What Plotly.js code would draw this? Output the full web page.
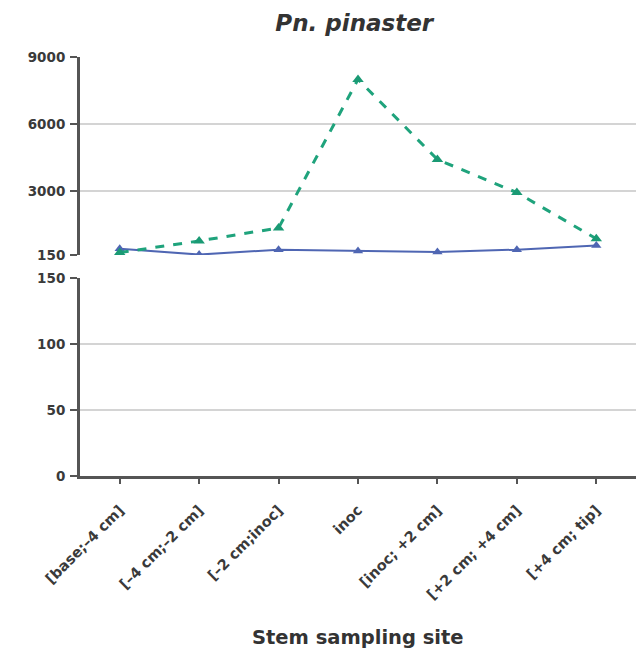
<!DOCTYPE html>
<html>
<head>
<meta charset="utf-8">
<script src="https://cdn.plot.ly/plotly-3.0.1.min.js"></script>
<style>html,body{margin:0;padding:0;background:#fff}#chart{width:636px;height:654px}</style>
</head>
<body>
<div id="chart"></div>
<script>
const categories = ["[base;\u20134 cm]", "[\u20134 cm;\u20132 cm]", "[\u20132 cm;inoc]", "inoc", "[inoc; +2 cm]", "[+2 cm; +4 cm]", "[+4 cm; tip]"];
const seriesBlue = [430, 170, 390, 330, 280, 390, 580];
const seriesGreen = [260, 780, 1360, 8000, 4420, 2940, 880];
const topTicks = [150, 3000, 6000, 9000];
const bottomTicks = [0, 50, 100, 150];

const blueStyle = {line: {color: '#4f66b3', width: 2}, marker: {symbol: 'triangle-up', size: 9, color: '#4f66b3'}};
const greenStyle = {line: {color: '#1fa37c', width: 3, dash: 'dash'}, marker: {symbol: 'triangle-up', size: 10, color: '#1a9a74'}};

const traces = [];
// each series drawn in both panels of the broken axis (bottom panel: 0-150, top panel: 150-9000)
[['x', 'y'], ['x2', 'y2']].forEach(([xa, ya]) => {
  traces.push(Object.assign({x: categories, y: seriesBlue, type: 'scatter', mode: 'lines+markers', xaxis: xa, yaxis: ya, name: 'A'}, blueStyle));
  traces.push(Object.assign({x: categories, y: seriesGreen, type: 'scatter', mode: 'lines+markers', xaxis: xa, yaxis: ya, name: 'B'}, greenStyle));
});

const FONT = 'DejaVu Sans, Verdana, sans-serif';
const yFont = {family: FONT, size: 13.5, color: '#3a3a3a', weight: 'bold'};
const xFont = {family: FONT, size: 14.5, color: '#3a3a3a', weight: 'bold'};
const yCommon = {
  showline: true, linecolor: '#555', linewidth: 3,
  ticks: 'outside', ticklen: 7, tickwidth: 2, tickcolor: '#555', ticklabelstandoff: 2,
  tickfont: yFont, showgrid: true, gridcolor: '#d4d4d4', gridwidth: 2, zeroline: false
};
const layout = {
  width: 636, height: 654,
  margin: {l: 80, r: 0, t: 57, b: 178},
  showlegend: false,
  paper_bgcolor: '#fff', plot_bgcolor: '#fff',
  title: {text: '<b><i>Pn. pinaster</i></b>', font: {family: FONT, size: 23, color: '#333'},
          x: 0.557, xanchor: 'center', y: 1 - 23/654, yanchor: 'middle', xref: 'container', yref: 'container'},
  xaxis: {
    type: 'category', categoryorder: 'array', categoryarray: categories,
    range: [-0.5, 6.5], anchor: 'y',
    showline: true, linecolor: '#555', linewidth: 3,
    ticks: 'outside', ticklen: 5, tickwidth: 2, tickcolor: '#555', ticklabelstandoff: 12,
    tickangle: -45, tickfont: xFont, showgrid: false, zeroline: false
  },
  xaxis2: {
    type: 'category', categoryorder: 'array', categoryarray: categories,
    range: [-0.5, 6.5], anchor: 'y2', matches: 'x',
    showline: false, showticklabels: false, ticks: '', showgrid: false, zeroline: false
  },
  yaxis: Object.assign({domain: [0, 0.4726], range: [0, 150], tickvals: bottomTicks, anchor: 'x'}, yCommon),
  yaxis2: Object.assign({domain: [0.5274, 1], range: [150, 9000], tickvals: topTicks, anchor: 'x2'}, yCommon),
  annotations: [
    {text: '<b>Stem sampling site</b>', xref: 'paper', yref: 'paper', x: 0.5, y: (476 - 637) / 419,
     xanchor: 'center', yanchor: 'middle', showarrow: false,
     font: {family: FONT, size: 19.5, color: '#333'}}
  ]
};

Plotly.newPlot('chart', traces, layout, {displayModeBar: false, staticPlot: true});
</script>
</body>
</html>
